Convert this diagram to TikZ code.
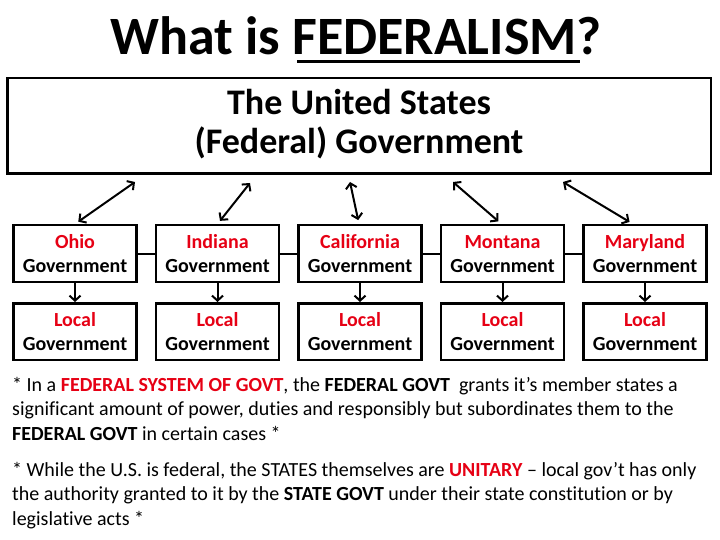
\documentclass[tikz,border=0pt]{standalone}
\usepackage{fontspec}
\setmainfont[Ligatures=NoCommon]{Carlito}
\usetikzlibrary{positioning,arrows.meta}
\definecolor{ptred}{RGB}{230,0,20}
\newcommand{\govtext}[1]{\textcolor{ptred}{\rule{0pt}{19pt}#1}\\Government\rule[-5pt]{0pt}{5pt}}

\begin{document}
\begin{tikzpicture}[x=1pt,y=-1pt]
    \tikzstyle{govbox}=[draw,line width=2.5pt,minimum width=123pt,minimum height=56.5pt,inner sep=0pt,align=center,font=\fontsize{20}{24}\selectfont\bfseries]
    \tikzstyle{link}=[line width=2pt,{Straight Barb[length=5pt,width=11pt]}-{Straight Barb[length=5pt,width=11pt]},shorten <=4pt]
    \tikzstyle{down}=[line width=2pt,-{Straight Barb[length=5pt,width=11pt]}]
    \useasboundingbox (0,0) rectangle (720,540);
    \node[anchor=base,font=\fontsize{54}{64}\selectfont\bfseries] (title) at (356,55) {What is FEDERALISM?};
    \draw[line width=3pt] (297,62) -- (580,62);
    \node[draw,line width=2.5pt,minimum width=703.5pt,minimum height=95.5pt,inner sep=0pt,align=center,font=\fontsize{36}{38}\selectfont\bfseries] (fed) at (359,126) {\strut The United States\\\strut(Federal) Government};
    % state governments
    \node[govbox] (ohio) at (75,253.5) {\govtext{Ohio}};
    \node[govbox,right=17pt of ohio] (indiana) {\govtext{Indiana}};
    \node[govbox,right=17pt of indiana] (california) {\govtext{California}};
    \node[govbox,right=17pt of california] (montana) {\govtext{Montana}};
    \node[govbox,right=17pt of montana] (maryland) {\govtext{Maryland}};
    % local governments
    \node[govbox,below=19pt of ohio] (ohioL) {\govtext{Local}};
    \node[govbox,below=19pt of indiana] (indianaL) {\govtext{Local}};
    \node[govbox,below=19pt of california] (californiaL) {\govtext{Local}};
    \node[govbox,below=19pt of montana] (montanaL) {\govtext{Local}};
    \node[govbox,below=19pt of maryland] (marylandL) {\govtext{Local}};
    \draw[line width=2pt] (ohio) -- (indiana) (indiana) -- (california)
      (california) -- (montana) (montana) -- (maryland);
    \foreach \s in {ohio,indiana,california,montana,maryland}
      \draw[down] (\s) -- (\s L);
    % links to the federal box
    \coordinate (fo) at (135,182);
    \coordinate (fi) at (250,183);
    \coordinate (fc) at (350,182);
    \coordinate (fm) at (453,182);
    \coordinate (fy) at (563,182);
    \draw[link] (ohio.north) -- (fo);
    \draw[link] (indiana.north) -- (fi);
    \draw[link] ([xshift=-1pt]california.north) -- (fc);
    \draw[link] ([xshift=-1pt]montana.north) -- (fm);
    \draw[link] ([xshift=-12pt]maryland.north) -- (fy);
    \node[anchor=north west,inner sep=0pt,align=left,font=\fontsize{20}{24.5}\selectfont] (notes) at (12,377)
      {* In a \textcolor{ptred}{\textbf{FEDERAL SYSTEM OF GOVT}}, the \textbf{FEDERAL GOVT}\ \ grants it’s member states a\\
      significant amount of power, duties and responsibly but subordinates them to the\\
      \textbf{FEDERAL GOVT} in certain cases *\\[11.5pt]
      * While the U.S. is federal, the STATES themselves are \textcolor{ptred}{\textbf{UNITARY}} – local gov’t has only\\
      the authority granted to it by the \textbf{STATE GOVT} under their state constitution or by\\
      legislative acts *};
\end{tikzpicture}
\end{document}
